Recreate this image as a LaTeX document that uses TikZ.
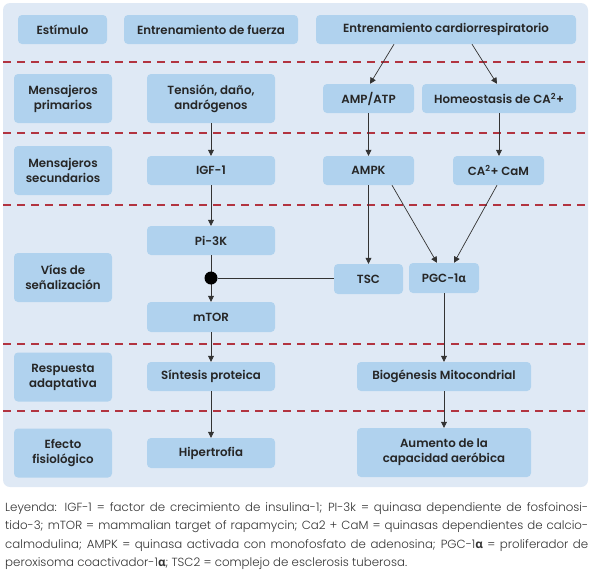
\documentclass[tikz,border=0pt]{standalone}
\usepackage{fontspec}
\setmainfont{Poppins}[BoldFont={Poppins SemiBold}]
\newfontfamily\legendfont{Poppins Light}[BoldFont={Poppins SemiBold}]
\newfontfamily\greekfont{Open Sans}
\usepackage{tikz}
\usetikzlibrary{arrows.meta,positioning}

\definecolor{panelblue}{RGB}{223,233,245}
\definecolor{boxblue}{RGB}{176,210,238}
\definecolor{sepred}{RGB}{178,52,64}
\definecolor{arrowgray}{RGB}{51,51,51}

\newcommand{\alfa}{{\greekfont α}}

\begin{document}
\begin{tikzpicture}
[
x=1pt, y=-1pt,
box/.style={rectangle, rounded corners=4pt, fill=boxblue, align=center, inner sep=2pt,
  font=\fontsize{11.8}{15}\selectfont\bfseries, text=black!85},
rowlabel/.style={box, minimum width=98pt, minimum height=49pt},
flow/.style={box, minimum width=128pt, minimum height=29pt},
sep/.style={sepred, line width=1.4pt, dash pattern=on 8pt off 6pt},
line/.style={draw=arrowgray, line width=0.7pt},
arr/.style={line, -{Triangle[width=6pt,length=6pt]}},
junction/.style={circle, fill=black, inner sep=0pt, minimum size=13pt}
]
\useasboundingbox (0,0) rectangle (595,579);
\fill[panelblue, rounded corners=7pt] (3,3) rectangle (588,487);

%Separators
\foreach \yy in {62,133,205,344,411}
  \draw[sep] (3,\yy) -- (588,\yy);

%Row labels
\node[box, minimum width=89pt, minimum height=29pt] (estimulo) at (62.5,29.5) {Estímulo};
\node[rowlabel] (primarios)   at (63,98.5)  {Mensajeros\\primarios};
\node[rowlabel] (secundarios) at (63,170.5) {Mensajeros\\secundarios};
\node[rowlabel] (vias)        at (63,277.5) {Vías de\\señalización};
\node[rowlabel] (respuesta)   at (63,377)   {Respuesta\\adaptativa};
\node[rowlabel] (efecto)      at (63,453)   {Efecto\\fisiológico};

%Strength branch
\node[flow, minimum width=174pt] (fuerza) at (211,29.5) {Entrenamiento de fuerza};
\node[flow, minimum height=49pt] (tension) at (211,98.5) {Tensión, daño,\\andrógenos};
\node[flow] (igf)         at (211,170.5) {IGF-1};
\node[flow] (pik)         at (211,240.5) {Pi-3K};
\node[flow, minimum height=30pt] (mtor) at (211,317) {mTOR};
\node[flow] (sintesis)    at (211,376.5) {Síntesis proteica};
\node[flow, minimum height=30pt] (hipertrofia) at (211,453) {Hipertrofia};

%Endurance branch
\node[flow, minimum width=260pt] (cardio) at (446,29.5) {Entrenamiento cardiorrespiratorio};
\node[flow, minimum width=91pt]  (amp)    at (368.5,98.5) {AMP/ATP};
\node[flow, minimum width=154pt] (homeo)  at (499,98.5) {Homeostasis de CA\textsuperscript{2}+};
\node[flow, minimum width=91pt]  (ampk)   at (368.5,170.5) {AMPK};
\node[flow, minimum width=91pt]  (cam)    at (498.5,170.5) {CA\textsuperscript{2}+ CaM};
\node[flow, minimum width=69pt, minimum height=30pt] (tsc) at (368.5,279) {TSC};
\node[flow, minimum width=70pt, minimum height=30pt] (pgc) at (444,278) {PGC-1\alfa};
\node[flow, minimum width=174pt] (biogenesis) at (444,376.5) {Biogénesis Mitocondrial};
\node[flow, minimum width=174pt, minimum height=49pt] (aumento) at (444,452.5) {Aumento de la\\capacidad aeróbica};

%Lines
\draw[arr] ([xshift=-52pt]cardio.south) -- ([xshift=1.5pt]amp.north);
\draw[arr] ([xshift=26pt]cardio.south) -- ([xshift=-2pt]homeo.north);
\draw[arr] (tension) -- (igf);
\draw[arr] (igf) -- (pik);
\draw[arr] (pik) -- (mtor);
\draw[arr] (mtor) -- (sintesis);
\draw[arr] (sintesis) -- (hipertrofia);
\draw[arr] (amp) -- (ampk);
\draw[arr] (homeo.south) -- (homeo.south |- cam.north);
\draw[arr] (ampk) -- (tsc);
\draw[arr] ([xshift=23.5pt]ampk.south) -- ([xshift=-7pt]pgc.north);
\draw[arr] ([xshift=-1.5pt]cam.south) -- ([xshift=10pt]pgc.north);
\draw[arr] (pgc) -- (biogenesis);
\draw[arr] (biogenesis) -- (aumento);

\node[junction] (dot) at (pik.south |- 0,278) {};
\draw[line] (dot) -- (dot -| tsc.west);

%Legend
\node[anchor=north west, text width=583pt, align=justify, inner sep=0pt, text=black!80,
  font=\legendfont\fontsize{11.8}{18.5}\selectfont] (leyenda) at (5,502)
{Leyenda: IGF-1 = factor de crecimiento de insulina-1; PI-3k = quinasa dependiente de fosfoinosi-\linebreak
tido-3; mTOR = mammalian target of rapamycin; Ca2 + CaM = quinasas dependientes de calcio-\linebreak
calmodulina; AMPK = quinasa activada con monofosfato de adenosina; PGC-1{\bfseries\alfa} = proliferador de\linebreak
peroxisoma coactivador-1{\bfseries\alfa}; TSC2 = complejo de esclerosis tuberosa.};

\end{tikzpicture}
\end{document}
